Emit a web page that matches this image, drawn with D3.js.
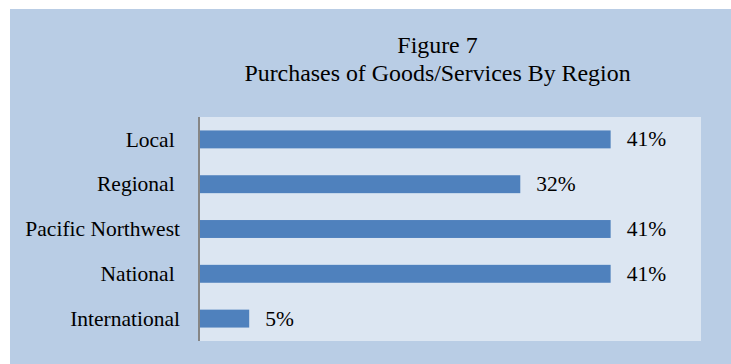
<!DOCTYPE html>
<html>
<head>
<meta charset="utf-8">
<script src="https://cdn.jsdelivr.net/npm/d3@7"></script>
<style>
  html, body { margin: 0; padding: 0; background: #fff; overflow: hidden; }
  svg { display: block; font-family: "Liberation Serif", "Times New Roman", serif; }
  .cat { white-space: pre; }
</style>
</head>
<body>
<svg id="chart" width="731" height="364"></svg>
<script>
  // data
  var categories = ["Local ", "Regional ", "Pacific Northwest", "National ", "International"];
  var values = [0.41, 0.32, 0.41, 0.41, 0.05];
  var valueLabels = ["41%", "32%", "41%", "41%", "5%"];
  var titleLines = ["Figure 7", "Purchases of Goods/Services By Region"];

  var svg = d3.select("#chart");

  var plot = { left: 199, top: 117, right: 701, bottom: 341 };

  // chart background
  svg.append("rect")
    .attr("x", 10).attr("y", 9)
    .attr("width", 721).attr("height", 355)
    .attr("fill", "#b9cde5");

  // plot area
  svg.append("rect")
    .attr("x", plot.left).attr("y", plot.top)
    .attr("width", plot.right - plot.left)
    .attr("height", plot.bottom - plot.top)
    .attr("fill", "#dce6f2");

  var x = d3.scaleLinear()
    .domain([0, 0.5])
    .range([plot.left, plot.right]);

  var y = d3.scaleBand()
    .domain(categories)
    .range([plot.top, plot.bottom])
    .paddingInner(0.6)
    .paddingOuter(0.3);

  // title
  svg.append("g")
    .selectAll("text")
    .data(titleLines)
    .join("text")
    .attr("x", 437.5)
    .attr("y", function(d, i) { return 53 + i * 28; })
    .attr("text-anchor", "middle")
    .attr("font-size", "23.9px")
    .attr("fill", "#000")
    .text(function(d) { return d; });

  // bars
  svg.append("g")
    .selectAll("rect")
    .data(values)
    .join("rect")
    .attr("x", x(0) + 1)
    .attr("y", function(d, i) { return y(categories[i]); })
    .attr("width", function(d) { return x(d) - x(0) - 1; })
    .attr("height", y.bandwidth())
    .attr("fill", "#4f81bd");

  // value labels
  svg.append("g")
    .selectAll("text")
    .data(values)
    .join("text")
    .attr("x", function(d) { return x(d) + 16; })
    .attr("y", function(d, i) { return y(categories[i]) + y.bandwidth() / 2; })
    .attr("dy", "0.33em")
    .attr("font-size", "21.5px")
    .attr("fill", "#000")
    .text(function(d, i) { return valueLabels[i]; });

  // category axis
  var axis = svg.append("g")
    .attr("transform", "translate(" + plot.left + ",0)")
    .call(d3.axisLeft(y).tickSize(0).tickPadding(19));
  axis.select(".domain")
    .attr("stroke", "#868686")
    .attr("stroke-width", 2)
    .attr("d", "M0," + plot.top + "V" + plot.bottom);
  axis.selectAll("text")
    .attr("class", "cat")
    .attr("font-family", "Liberation Serif, Times New Roman, serif")
    .attr("font-size", "21.5px")
    .attr("fill", "#000")
    .attr("dy", "0.33em");
</script>
</body>
</html>
